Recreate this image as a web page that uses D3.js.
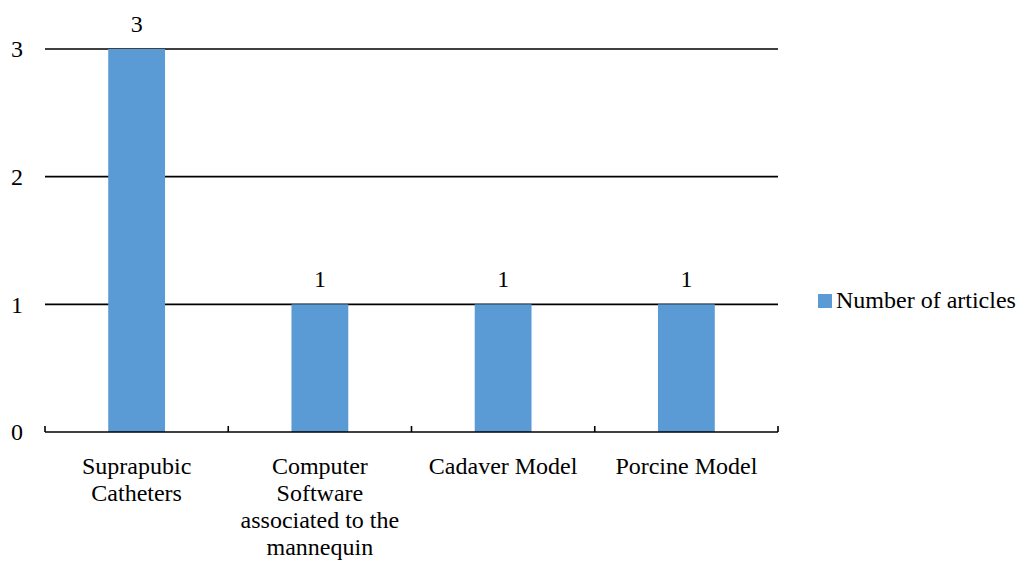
<!DOCTYPE html>
<html>
<head>
<meta charset="utf-8">
<script src="https://cdn.jsdelivr.net/npm/d3@7"></script>
<style>
  html, body { margin: 0; padding: 0; background: #fff; }
  svg { display: block; }
</style>
</head>
<body>
<svg id="chart" width="1029" height="563"></svg>
<script>
// Chart data
const categories = [
  ["Suprapubic", "Catheters"],
  ["Computer", "Software", "associated to the", "mannequin"],
  ["Cadaver Model"],
  ["Porcine Model"]
];
const values = [3, 1, 1, 1];
const yTicks = [0, 1, 2, 3];
const seriesName = "Number of articles";

const W = 1029, H = 563;
const plot = { left: 45, right: 778, top: 49, bottom: 432 };
const fontSize = 24;
const fontFamily = "'Liberation Serif', 'DejaVu Serif', serif";
const barColor = "#5B9BD5";

const svg = d3.select("#chart")
  .style("font-family", fontFamily);
const keys = categories.map((c, i) => i);

const x = d3.scaleBand()
  .domain(keys)
  .range([plot.left, plot.right])
  .paddingInner(0.69)
  .paddingOuter(0.345);

const y = d3.scaleLinear()
  .domain([0, 3])
  .range([plot.bottom, plot.top]);

// horizontal gridlines
svg.append("g")
  .selectAll("line")
  .data(yTicks.filter(t => t > 0))
  .join("line")
  .attr("x1", plot.left)
  .attr("x2", plot.right)
  .attr("y1", d => y(d))
  .attr("y2", d => y(d))
  .attr("stroke", "#000")
  .attr("stroke-width", 1.6);

// bars
svg.append("g")
  .selectAll("rect")
  .data(values)
  .join("rect")
  .attr("x", (d, i) => x(i))
  .attr("width", x.bandwidth())
  .attr("y", d => y(d))
  .attr("height", d => y(0) - y(d))
  .attr("fill", barColor);

// value labels
svg.append("g")
  .selectAll("text")
  .data(values)
  .join("text")
  .attr("x", (d, i) => x(i) + x.bandwidth() / 2)
  .attr("y", d => y(d) - 17)
  .attr("text-anchor", "middle")
  .style("font-size", fontSize + "px")
  .text(d => d);

// y-axis tick labels
svg.append("g")
  .selectAll("text")
  .data(yTicks)
  .join("text")
  .attr("x", 23)
  .attr("y", d => y(d))
  .attr("dy", "0.35em")
  .attr("text-anchor", "end")
  .style("font-size", fontSize + "px")
  .text(d => d);

// x axis line with upward tick marks at band boundaries
const boundaries = d3.range(categories.length + 1).map(i => plot.left + i * x.step());
svg.append("line")
  .attr("x1", plot.left)
  .attr("x2", plot.right)
  .attr("y1", y(0))
  .attr("y2", y(0))
  .attr("stroke", "#000")
  .attr("stroke-width", 1.6);
svg.append("g")
  .selectAll("line")
  .data(boundaries)
  .join("line")
  .attr("x1", d => d)
  .attr("x2", d => d)
  .attr("y1", y(0))
  .attr("y2", y(0) - 6)
  .attr("stroke", "#000")
  .attr("stroke-width", 1.6);

// category labels (multi-line)
const catG = svg.append("g")
  .selectAll("text")
  .data(categories)
  .join("text")
  .attr("x", (d, i) => x(i) + x.bandwidth() / 2)
  .attr("y", 474)
  .attr("text-anchor", "middle")
  .style("font-size", fontSize + "px");
catG.selectAll("tspan")
  .data(d => d)
  .join("tspan")
  .attr("x", function() { return d3.select(this.parentNode).attr("x"); })
  .attr("dy", (d, i) => i === 0 ? 0 : 27)
  .text(d => d);

// legend
const legend = svg.append("g").attr("transform", "translate(818,294)");
legend.append("rect")
  .attr("width", 14)
  .attr("height", 14)
  .attr("fill", barColor);
legend.append("text")
  .attr("x", 18)
  .attr("y", 14)
  .style("font-size", fontSize + "px")
  .text(seriesName);
</script>
</body>
</html>
